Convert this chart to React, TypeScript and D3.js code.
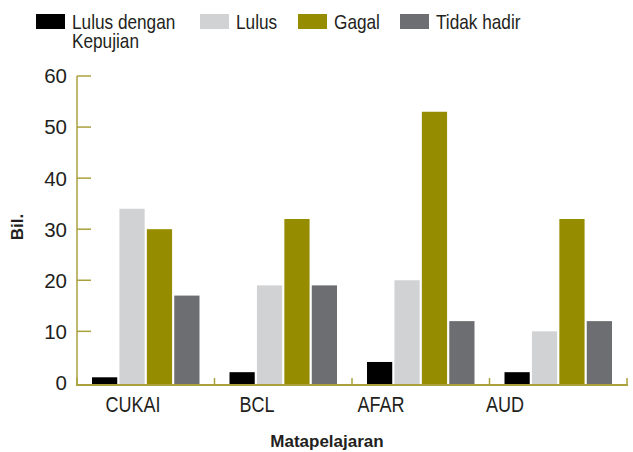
import * as d3 from 'd3';

const categories = ['CUKAI', 'BCL', 'AFAR', 'AUD'];
const seriesNames = ['Lulus dengan Kepujian', 'Lulus', 'Gagal', 'Tidak hadir'];
const lulusKepujian = [1, 2, 4, 2];
const lulus = [34, 19, 20, 10];
const gagal = [30, 32, 53, 32];
const tidakHadir = [17, 19, 12, 12];
const yTicks = [0, 10, 20, 30, 40, 50, 60];

const seriesValues = [lulusKepujian, lulus, gagal, tidakHadir];
const colors = ['#000000', '#d1d2d4', '#968c00', '#6d6e71'];

const W = 633;
const H = 452;
const axisColor = '#aaa03c';
const textColor = '#231f20';
const font = '"Liberation Sans", Arial, sans-serif';
const squeeze = 0.82; // original uses a condensed light face

export default function App() {
    const x0 = d3.scaleBand<string>().domain(categories).range([77, 627]).padding(0);
    const inset = 15;
    const x1 = d3.scaleBand<number>()
        .domain(d3.range(seriesNames.length))
        .range([inset, x0.bandwidth() - inset])
        .paddingInner(0.08);
    // category labels sit a little left of the bar groups in the original
    const xLabel = d3.scaleBand<string>().domain(categories).range([71, 567]);
    const y = d3.scaleLinear().domain([0, 60]).range([382.4, 76]);
    const baseY = 385;

    const boundaries = [...categories.map(c => x0(c) as number), 627];

    const legendX = [36, 200, 298, 400];

    return (
        <svg width={W} height={H} viewBox={`0 0 ${W} ${H}`}
            style={{ position: 'absolute', left: 0, top: 0, background: '#fff' }}
            fontFamily={font}>
            {/* legend */}
            {seriesNames.map((name, i) => {
                const lines = i === 0 ? ['Lulus dengan', 'Kepujian'] : [name];
                return (
                    <g key={name}>
                        <rect x={legendX[i]} y={14} width={29} height={15} fill={colors[i]} />
                        <text transform={`translate(${legendX[i] + 36},29) scale(${squeeze},1)`}
                            fontSize={21} fill={textColor}>
                            {lines.map((l, k) => (
                                <tspan key={k} x={0} y={k * 19.3}>{l}</tspan>
                            ))}
                        </text>
                    </g>
                );
            })}

            {/* bars */}
            {categories.map((c, ci) => (
                <g key={c} transform={`translate(${x0(c)},0)`}>
                    {seriesValues.map((vals, si) => (
                        <rect key={si}
                            x={x1(si)}
                            y={y(vals[ci])}
                            width={x1.bandwidth()}
                            height={baseY - y(vals[ci])}
                            fill={colors[si]} />
                    ))}
                </g>
            ))}

            {/* y axis */}
            <line x1={77} x2={77} y1={y(60)} y2={baseY} stroke={axisColor} strokeWidth={1.5} />
            {yTicks.map(t => (
                <g key={t}>
                    {t > 0 && <line x1={77} x2={91} y1={y(t)} y2={y(t)} stroke={axisColor} strokeWidth={1.5} />}
                    <text x={67} y={y(t)} dy="0.36em" textAnchor="end" fontSize={20.5} fill={textColor}>{t}</text>
                </g>
            ))}

            {/* x axis */}
            <line x1={76} x2={628} y1={baseY} y2={baseY} stroke={axisColor} strokeWidth={2} />
            {boundaries.map((b, i) => (
                <line key={i} x1={b} x2={b} y1={baseY} y2={baseY - 7} stroke={axisColor} strokeWidth={1.5} />
            ))}
            {categories.map(c => (
                <text key={c}
                    transform={`translate(${(xLabel(c) as number) + xLabel.bandwidth() / 2},411.5) scale(${squeeze},1)`}
                    textAnchor="middle" fontSize={22} fill={textColor}>{c}</text>
            ))}

            {/* axis titles */}
            <text x={327} y={447} textAnchor="middle" fontSize={17} fontWeight="bold" fill={textColor}>Matapelajaran</text>
            <text transform={`translate(23,227) rotate(-90)`} textAnchor="middle" fontSize={17} fontWeight="bold" fill={textColor}>Bil.</text>
        </svg>
    );
}
